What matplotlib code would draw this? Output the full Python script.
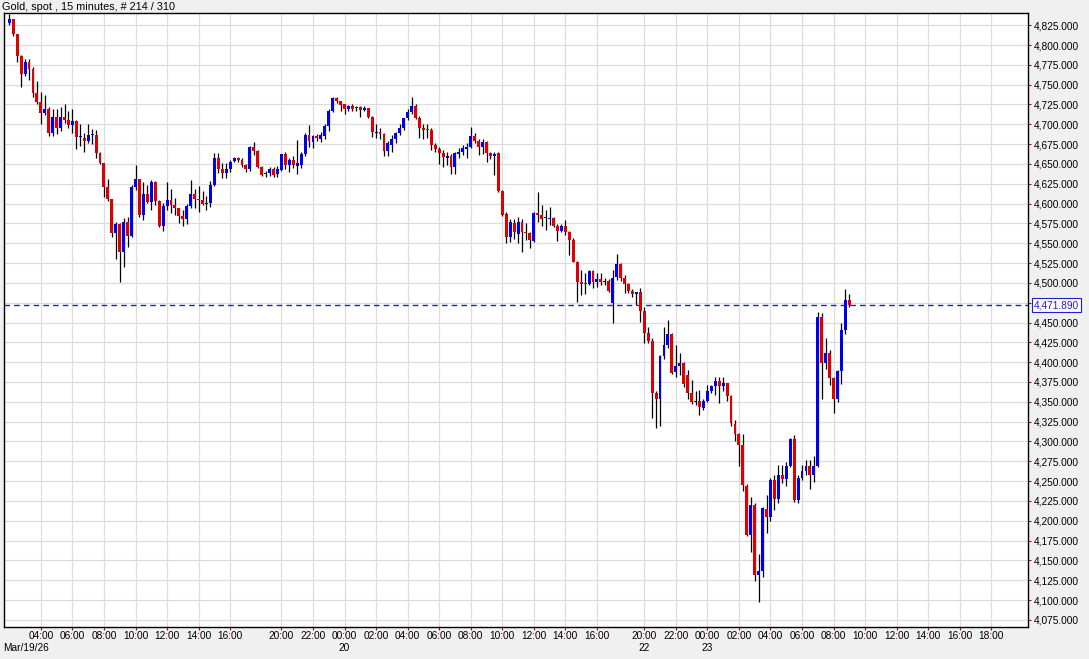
import matplotlib
matplotlib.use("Agg")
import matplotlib.pyplot as plt
import numpy as np

plt.rcParams['font.family'] = ['Liberation Sans', 'DejaVu Sans']

# 15-minute OHLC candles, Mar 19 02:00 -> Mar 23 09:00
opens = [4828, 4832.6, 4813.7, 4786.3, 4763.2, 4778.7, 4769.5, 4739.7, 4728.3, 4714.4,
         4719, 4689.2, 4708.6, 4695.6, 4708.6, 4705.2, 4699, 4704, 4683.5, 4682.9,
         4679.1, 4686.3, 4686, 4664, 4650.6, 4620.4, 4605.3, 4563.2, 4574.1, 4539.2,
         4577, 4559, 4620.4, 4630.5, 4585.5, 4612, 4602.2, 4627.5, 4603.5, 4571.6,
         4596.8, 4604.4, 4598.1, 4593.9, 4584.2, 4580, 4596.8, 4612, 4606, 4604,
         4600, 4601, 4623.3, 4657.7, 4643.5, 4639, 4643.5, 4654, 4657, 4655,
         4648.5, 4644, 4671.6, 4666.5, 4646.4, 4637, 4638, 4643.5, 4637, 4642,
         4662, 4648.5, 4655, 4647, 4648.5, 4662, 4686, 4678, 4685.6, 4682,
         4685.6, 4698, 4716.6, 4732.6, 4729, 4725, 4719, 4723, 4721, 4722,
         4718, 4720, 4709.4, 4689, 4690, 4688, 4666, 4674, 4681, 4688.5,
         4695.5, 4707.4, 4715.7, 4723, 4708, 4695, 4694, 4692.5, 4674, 4668.3,
         4663.3, 4657.7, 4660, 4645.6, 4663, 4665, 4668.5, 4671.6, 4685, 4679,
         4671, 4678, 4663.3, 4660, 4663.3, 4616, 4587, 4558, 4576, 4562,
         4577, 4563, 4562.5, 4553, 4587.6, 4585.5, 4581.5, 4581, 4582, 4572,
         4565, 4572, 4563.6, 4554, 4526.6, 4500.6, 4500, 4499, 4515, 4501.5,
         4504.5, 4501.5, 4502, 4474, 4507, 4524, 4505.6, 4498.5, 4489.7, 4486,
         4488, 4464.8, 4437, 4427, 4361.5, 4353.5, 4407.7, 4421.6, 4435.5, 4387,
         4395.5, 4399, 4384, 4361, 4350, 4350.5, 4342, 4351.5, 4364, 4369.7,
         4376, 4369.7, 4373.7, 4357.5, 4322, 4310, 4295, 4244, 4182, 4220,
         4132, 4136, 4214.5, 4205, 4252, 4227, 4258, 4252.5, 4269, 4303,
         4226.5, 4253.5, 4263, 4269, 4258, 4269, 4456.5, 4399, 4411, 4380,
         4353, 4389, 4441, 4478]

highs = [4838.5, 4833.4, 4814.5, 4788, 4782, 4782, 4771.7, 4754.8, 4741, 4736.7,
         4721.2, 4719, 4719, 4721.2, 4725, 4716.6, 4719, 4705.2, 4700.2, 4688.5,
         4700.2, 4693.9, 4692.6, 4665, 4651.4, 4630.5, 4606, 4577, 4575, 4581.3,
         4582.6, 4623.3, 4648.5, 4631, 4627.5, 4623.3, 4629.6, 4628.5, 4604, 4600.2,
         4627.5, 4617.9, 4606.5, 4595, 4592, 4600, 4630, 4618, 4622, 4616,
         4610, 4628, 4663.3, 4663.3, 4651.4, 4651.4, 4655, 4659, 4659, 4657,
         4650, 4672.5, 4677.5, 4668, 4648, 4641, 4646.6, 4646.6, 4648, 4663,
         4665, 4657, 4660, 4680, 4665, 4688.5, 4699, 4687, 4688, 4690.5,
         4701, 4719, 4734.6, 4734.6, 4730, 4726, 4724.6, 4725, 4723, 4723.4,
         4723.4, 4721, 4710, 4700, 4695.6, 4689, 4679, 4686, 4690.5, 4700,
         4708, 4719, 4734.6, 4726, 4710, 4700, 4700, 4694.8, 4676.6, 4671.6,
         4668, 4665, 4663, 4665, 4669.5, 4674, 4676, 4696, 4688.5, 4682,
         4681, 4679, 4665, 4665, 4665, 4617, 4589, 4581, 4581, 4583,
         4581, 4576, 4564.5, 4589.7, 4614, 4598, 4592, 4596, 4583, 4574,
         4574, 4579, 4566, 4556, 4528, 4516, 4513, 4516, 4516, 4512,
         4512, 4505.6, 4505, 4516, 4536, 4525, 4510, 4500, 4491.8, 4489,
         4493, 4470, 4444, 4430, 4364, 4409, 4444, 4453, 4437, 4421.6,
         4411, 4400.5, 4390, 4377.5, 4364, 4365, 4354, 4371, 4371, 4381.6,
         4381, 4381, 4374, 4358, 4327, 4311, 4309, 4246, 4230, 4222,
         4158, 4217, 4232.5, 4254, 4258, 4270.5, 4270.5, 4274.6, 4304, 4308,
         4258, 4270.5, 4276.6, 4276.6, 4281.6, 4463.6, 4461.5, 4431, 4415, 4381,
         4390, 4449, 4491.8, 4486]

lows = [4825, 4811.5, 4778.7, 4747, 4761, 4755.7, 4734.6, 4725.4, 4700.2, 4711.5,
        4685.4, 4685.4, 4687.2, 4691.7, 4701.8, 4695.6, 4688.5, 4668.7, 4672.8, 4665.3,
        4675.9, 4675, 4657, 4649.8, 4608.6, 4603.5, 4558.1, 4529.6, 4501.4, 4520.3,
        4544.7, 4558.1, 4617, 4583.4, 4579.2, 4601, 4591.8, 4598, 4570, 4565.7,
        4591.8, 4588.4, 4585.5, 4575.8, 4572, 4574, 4594, 4594, 4590, 4598,
        4592, 4596, 4622, 4638, 4631.7, 4631.7, 4640, 4652, 4652, 4646,
        4640, 4641, 4661, 4645, 4634.8, 4634, 4635, 4634, 4633, 4641,
        4643.5, 4640, 4645, 4637, 4644.5, 4660, 4671.7, 4669.5, 4679, 4678,
        4682, 4691.5, 4715.7, 4727.5, 4716.6, 4713.5, 4716.6, 4716.6, 4716.6, 4709.4,
        4716.6, 4708.4, 4684.2, 4683, 4682, 4660, 4660, 4665, 4677, 4686,
        4692.5, 4705, 4713, 4706.5, 4683, 4682, 4683, 4667, 4665, 4650,
        4645.6, 4648.5, 4637, 4637, 4658, 4661, 4658, 4670, 4676, 4661,
        4663, 4652.7, 4655.7, 4636, 4614, 4584, 4550.6, 4552, 4555, 4550.6,
        4539, 4554, 4543.5, 4551, 4577, 4571.6, 4566.5, 4573, 4570.7, 4553,
        4564.5, 4560, 4535, 4526, 4476, 4485, 4485.5, 4497, 4493, 4495,
        4497, 4497, 4488, 4449, 4504, 4503, 4487.5, 4487.5, 4482.5, 4472,
        4451, 4424.5, 4424, 4329, 4316.5, 4319, 4404, 4418, 4385, 4381.6,
        4384, 4369, 4354, 4347, 4346, 4333, 4339.6, 4350, 4361, 4358.5,
        4348, 4364, 4351.5, 4319, 4301, 4269, 4238, 4181, 4160, 4124.5,
        4098, 4129, 4185, 4200, 4214, 4223, 4248, 4244, 4268, 4224,
        4223, 4251.4, 4257.7, 4240, 4249, 4268, 4354, 4391, 4371, 4335.5,
        4350, 4373, 4435, 4469]

closes = [4832.6, 4813.7, 4786.3, 4764, 4778.7, 4769.5, 4739.7, 4728.3, 4714.4, 4719,
          4689.2, 4708.6, 4694.8, 4708.6, 4705.2, 4699, 4704, 4684.2, 4684.5, 4679.1,
          4686.3, 4686.6, 4664, 4650.6, 4620.4, 4605.3, 4563.2, 4574.1, 4539.2, 4577,
          4559, 4620.4, 4630.5, 4585.5, 4612, 4602.2, 4627.5, 4603.5, 4571.6, 4596.8,
          4604.4, 4598.1, 4593.9, 4584.2, 4580, 4596.8, 4612, 4606, 4604, 4600,
          4601, 4623.3, 4657.7, 4643.5, 4639, 4643.5, 4652.7, 4657, 4655, 4648.5,
          4644, 4671.6, 4666.5, 4646.4, 4636, 4639, 4643.5, 4636, 4644, 4662,
          4648.5, 4655, 4648.5, 4651, 4662, 4686, 4678.5, 4685.6, 4683, 4686,
          4698, 4716.6, 4733.4, 4729, 4724, 4719, 4723, 4719, 4721.3, 4718,
          4720, 4709.4, 4689.7, 4690, 4688, 4666, 4676, 4682, 4689, 4695.5,
          4707.4, 4715.7, 4723, 4707.4, 4694.8, 4693, 4692.5, 4673.7, 4668.3, 4663.3,
          4659, 4660, 4645.6, 4663.3, 4665, 4669.5, 4671.6, 4685, 4679, 4671,
          4678, 4663.3, 4660, 4663, 4616, 4585.5, 4558, 4577, 4564.5, 4577,
          4564, 4562.5, 4554, 4587.6, 4585.5, 4581, 4582, 4582, 4572, 4565,
          4572, 4563.6, 4554, 4526.6, 4500.6, 4499, 4499, 4515, 4501.5, 4504.5,
          4501.5, 4502.5, 4490, 4505.6, 4523.7, 4505.6, 4498.5, 4489.7, 4486, 4488,
          4464.8, 4437, 4427, 4361.5, 4353.5, 4407.7, 4421.6, 4435.5, 4386.7, 4395,
          4398.5, 4373, 4361, 4350, 4351, 4343, 4351.5, 4364, 4369.7, 4376,
          4369.7, 4373.7, 4357.5, 4323, 4310, 4295, 4245, 4182, 4220, 4132,
          4136, 4215.7, 4205, 4252, 4227, 4258, 4252.5, 4269, 4303, 4226.5,
          4253.5, 4263, 4269, 4258, 4269, 4456.5, 4399, 4411, 4380, 4353,
          4389, 4441, 4478, 4471.89]

# time axis: tick bar index and label
tick_pos = [8, 16, 24, 32, 40, 48, 56, 69, 77, 85, 93, 101, 109, 117, 125, 133, 141, 149,
            161, 169, 177, 185, 193, 201, 209, 217, 225, 233, 241, 249]
tick_labels = ["04:00", "06:00", "08:00", "10:00", "12:00", "14:00", "16:00",
               "20:00", "22:00", "00:00", "02:00", "04:00", "06:00", "08:00", "10:00",
               "12:00", "14:00", "16:00", "20:00", "22:00", "00:00", "02:00", "04:00",
               "06:00", "08:00", "10:00", "12:00", "14:00", "16:00", "18:00"]
day_pos = [85, 161, 177]
day_labels = ["20", "22", "23"]

last_price = closes[-1]
up_color = "#0000ee"
down_color = "#dd0000"

fig = plt.figure(figsize=(10.89, 6.59), dpi=100)
fig.patch.set_facecolor("#f0f0f0")
ax = fig.add_axes([3.5 / 1089, 32 / 659, (1028 - 3.5) / 1089, (627 - 13.3) / 659])
ax.set_facecolor("white")

o = np.array(opens)
h = np.array(highs)
l = np.array(lows)
c = np.array(closes)
x = np.arange(len(o))
up = c >= o
colors = np.where(up, up_color, down_color)
body_lo = np.minimum(o, c)
body_h = np.maximum(np.abs(c - o), 1.3)

# wicks first, bodies on top
ax.vlines(x, l, h, color="black", lw=0.9, zorder=3)
ax.bar(x, body_h, bottom=body_lo, width=0.74, color=colors, linewidth=0, zorder=4)

ax.axhline(last_price, color="#1f1fd0", lw=1.0, ls=(0, (4, 3)), zorder=2)

ax.set_xlim(-1.47, 258.3)
ax.set_ylim(4066, 4840)

yt = np.arange(4075, 4826, 25)
ax.set_yticks(yt)
ax.set_yticklabels([f"{v:,.3f}" for v in yt])
ax.yaxis.tick_right()
ax.set_xticks(tick_pos)
ax.set_xticklabels(tick_labels)

ax.tick_params(axis="both", labelsize=7.3, colors="#cc0000", labelcolor="black",
               length=2.5, width=0.8, direction="out", pad=1.5)
ax.tick_params(axis="x", pad=0.5)
ax.grid(True, color="#dcdcdc", lw=0.9, zorder=0)
ax.set_axisbelow(True)
for s in ax.spines.values():
    s.set_color("black")
    s.set_linewidth(1)

# date row under the time labels
for p, lab in zip(day_pos, day_labels):
    ax.annotate(lab, xy=(p, 0), xycoords=("data", "axes fraction"),
                xytext=(0, -15), textcoords="offset points",
                ha="center", va="center", fontsize=7.3)
ax.annotate("Mar/19/26", xy=(0, 0), xycoords="axes fraction",
            xytext=(0, -15), textcoords="offset points",
            ha="left", va="center", fontsize=7.3)

# current price label
ax.annotate(f"{last_price:,.3f}", xy=(1, last_price), xycoords=("axes fraction", "data"),
            xytext=(4, 0), textcoords="offset points", ha="left", va="center",
            fontsize=7.3, color="#1f1fd0",
            bbox=dict(boxstyle="square,pad=0.2", fc="white", ec="#1f1fd0", lw=0.8))

fig.text(2 / 1089, 1 - 7 / 659, "Gold, spot , 15 minutes, # 214 / 310",
         ha="left", va="center", fontsize=7.8)

fig.savefig("out.png", dpi=100, facecolor=fig.get_facecolor())
